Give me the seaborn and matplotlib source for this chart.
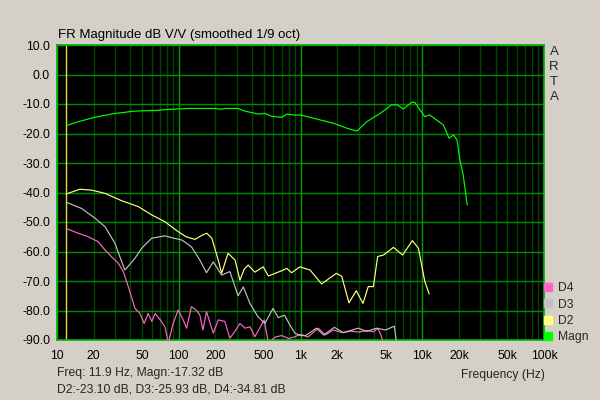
import numpy as np
import pandas as pd
import seaborn as sns
import matplotlib.pyplot as plt
from matplotlib.lines import Line2D

sns.set_style("dark")
plt.rcParams['font.family'] = ['Liberation Sans', 'DejaVu Sans']

# magnitude response (green)
magn_f = [11.9, 15, 19.9, 25, 29.9, 35, 41.1, 50, 63.6, 84.9, 119, 160, 198.7, 225, 239, 306,
          349, 447, 510, 580, 701, 776, 901, 1000, 1450, 1860, 2400, 2900, 3500, 4500, 5600,
          6200, 7000, 8200, 8700, 10500, 11500, 14900, 16600, 18100, 19300, 20400, 21700, 23400]
magn_db = [-17.3, -16.0, -14.6, -13.8, -13.2, -12.9, -12.5, -12.3, -12.2, -11.8, -11.5, -11.5,
           -11.5, -11.8, -11.5, -11.5, -12.4, -13.4, -13.2, -14.2, -14.5, -13.4, -13.8, -13.7,
           -15.4, -16.5, -18.2, -19.2, -16.0, -13.2, -10.3, -10.3, -11.7, -9.4, -9.5, -14.3,
           -13.7, -17.1, -21.6, -20.5, -22.2, -29.0, -34.1, -44.2]

# 2nd harmonic (yellow)
d2_f = [11.9, 15.4, 19.3, 24.8, 34, 46.6, 60, 77, 99, 115, 136, 155, 170, 187, 211, 225, 254,
        290, 318, 345, 372, 422, 494, 545, 637, 722, 770, 845, 989, 1200, 1490, 1970, 2180, 2500,
        2870, 3260, 3600, 3970, 4300, 4800, 5800, 6900, 8300, 9300, 10500, 11400]
d2_db = [-40.5, -38.9, -39.2, -40.3, -42.8, -44.8, -47.6, -49.9, -53.3, -55.0, -55.9, -54.5,
         -53.8, -55.5, -62.9, -67.4, -60.6, -62.9, -69.7, -66.0, -64.6, -67.0, -65.2, -68.3,
         -67.2, -66.3, -65.7, -67.2, -65.2, -66.3, -71.0, -67.4, -68.4, -77.4, -73.3, -77.6,
         -71.9, -71.9, -61.7, -61.2, -58.6, -61.2, -56.3, -58.9, -70.2, -74.4]

# 3rd harmonic (grey)
d3_f = [11.9, 15.9, 20.5, 24.8, 29.9, 33, 36.1, 43.7, 49.6, 59.9, 77, 87, 106, 127, 149, 169,
        192, 225, 263, 307, 339, 384, 447, 510, 594, 656, 740, 820, 901, 1000, 1100, 1350, 1550,
        1900, 2250, 2980, 3500, 4200, 5000, 5900, 6150]
d3_db = [-43.3, -45.4, -48.7, -51.6, -57.2, -62.0, -66.3, -62.3, -58.9, -55.5, -54.7, -55.3,
         -56.1, -58.4, -62.9, -67.2, -63.5, -68.0, -66.8, -75.0, -72.0, -77.6, -82.1, -84.4,
         -79.3, -82.4, -81.6, -85.0, -87.7, -88.5, -88.5, -86.0, -88.3, -85.7, -87.5, -86.0,
         -87.1, -86.0, -86.6, -85.3, -91.0]

# 4th harmonic (pink)
d4_f = [11.9, 14.9, 18.1, 21.8, 24.8, 28.1, 31.9, 35, 38.5, 43.7, 48, 52, 56, 60, 64, 70, 77,
        82, 90, 99, 109, 116, 127, 140, 149, 158, 169, 180, 192, 211, 239, 263, 290, 318, 350,
        384, 422, 503, 545, 620, 700, 800, 900, 1000, 1150, 1400, 1600, 1860, 2200, 2600, 3000,
        3500, 4000, 4300, 4550, 4800]
d4_db = [-52.2, -53.8, -55.0, -56.7, -59.5, -61.8, -64.0, -66.8, -71.9, -79.3, -81.0, -84.4,
         -81.0, -83.7, -81.0, -83.0, -85.5, -91.0, -84.4, -79.8, -83.3, -86.0, -78.7, -80.0,
         -81.5, -86.6, -80.4, -84.0, -87.7, -83.2, -83.7, -89.4, -87.0, -84.4, -86.0, -85.5,
         -88.9, -83.2, -91.0, -89.0, -88.5, -89.5, -88.9, -88.0, -89.0, -86.0, -88.3, -86.6,
         -87.5, -87.0, -87.3, -86.8, -87.2, -86.0, -88.0, -91.0]

series = ['D4', 'D3', 'D2', 'Magn']
colors = {'Magn': '#00FF00', 'D2': '#FFFF80', 'D3': '#C0C0C0', 'D4': '#FF66C4'}
x_ticks = [10, 20, 50, 100, 200, 500, 1000, 2000, 5000, 10000, 20000, 50000, 100000]
x_labels = ['10', '20', '50', '100', '200', '500', '1k', '2k', '5k', '10k', '20k', '50k', '100k']
y_ticks = np.arange(-90, 11, 10)
cursor_f = 11.9

curves = {'Magn': (magn_f, magn_db), 'D2': (d2_f, d2_db), 'D3': (d3_f, d3_db), 'D4': (d4_f, d4_db)}
bg = '#D4D0C8'

fig = plt.figure(figsize=(6, 4), dpi=100, facecolor=bg)
ax = fig.add_axes([57 / 600, 60 / 400, 487 / 600, 295 / 400])
ax.set_facecolor('black')

# grid: dark minor verticals, bright decades, horizontals every 10 dB
for dec in [10, 100, 1000, 10000]:
    for m in range(2, 10):
        ax.axvline(dec * m, color='#004600', lw=1.0, zorder=1)
for dec in [10, 100, 1000, 10000, 100000]:
    ax.axvline(dec, color='#00A000', lw=1.0, zorder=1)
for yv in y_ticks:
    ax.axhline(yv, color='#008C00', lw=1.0, zorder=1)

ax.axvline(cursor_f, color='#E8D840', lw=1.0, zorder=2)

for name in ['D4', 'D3', 'D2', 'Magn']:
    f, db = curves[name]
    df = pd.DataFrame({'f': f, 'db': db})
    sns.lineplot(data=df, x='f', y='db', ax=ax, color=colors[name], lw=0.85,
                 estimator=None, zorder=3)

ax.set_xscale('log')
ax.set_xlim(10, 100000)
ax.set_ylim(-90, 10)
ax.set_xticks(x_ticks)
ax.set_xticklabels(x_labels)
ax.set_xticks([], minor=True)
ax.set_yticks(y_ticks)
ax.set_yticklabels([f'{v:.1f}' for v in y_ticks])
ax.tick_params(length=0, labelsize=8.7, colors='black', pad=5)
ax.tick_params(axis='x', pad=7)
ax.set_xlabel('')
ax.set_ylabel('')
ax.grid(False)
for s in ax.spines.values():
    s.set_color('#00B000')
    s.set_linewidth(1.2)

fig.text(58 / 600, 1 - 35 / 400, 'FR Magnitude dB V/V (smoothed 1/9 oct)', fontsize=9.5,
         va='center', ha='left', color='black')
for i, ch in enumerate('ARTA'):
    fig.text(554 / 600, 1 - (52 + 15 * i) / 400, ch, fontsize=9.5, va='center', ha='center')

handles = [Line2D([], [], ls='none', marker='s', markersize=6, markerfacecolor=colors[n],
                  markeredgecolor=colors[n]) for n in series]
fig.legend(handles, series, loc='upper left', bbox_to_anchor=(541 / 600, 1 - 280 / 400),
           frameon=False, fontsize=8.7, handlelength=0.8, handletextpad=0.4,
           labelspacing=0.35, borderaxespad=0, borderpad=0.2)

fig.text(57 / 600, 1 - 373 / 400, 'Freq: 11.9 Hz, Magn:-17.32 dB', fontsize=8.7, va='center')
fig.text(57 / 600, 1 - 390 / 400, 'D2:-23.10 dB, D3:-25.93 dB, D4:-34.81 dB', fontsize=8.7,
         va='center')
fig.text(545 / 600, 1 - 375 / 400, 'Frequency (Hz)', fontsize=8.7, va='center', ha='right')

fig.savefig('out.png', dpi=100, facecolor=bg)
